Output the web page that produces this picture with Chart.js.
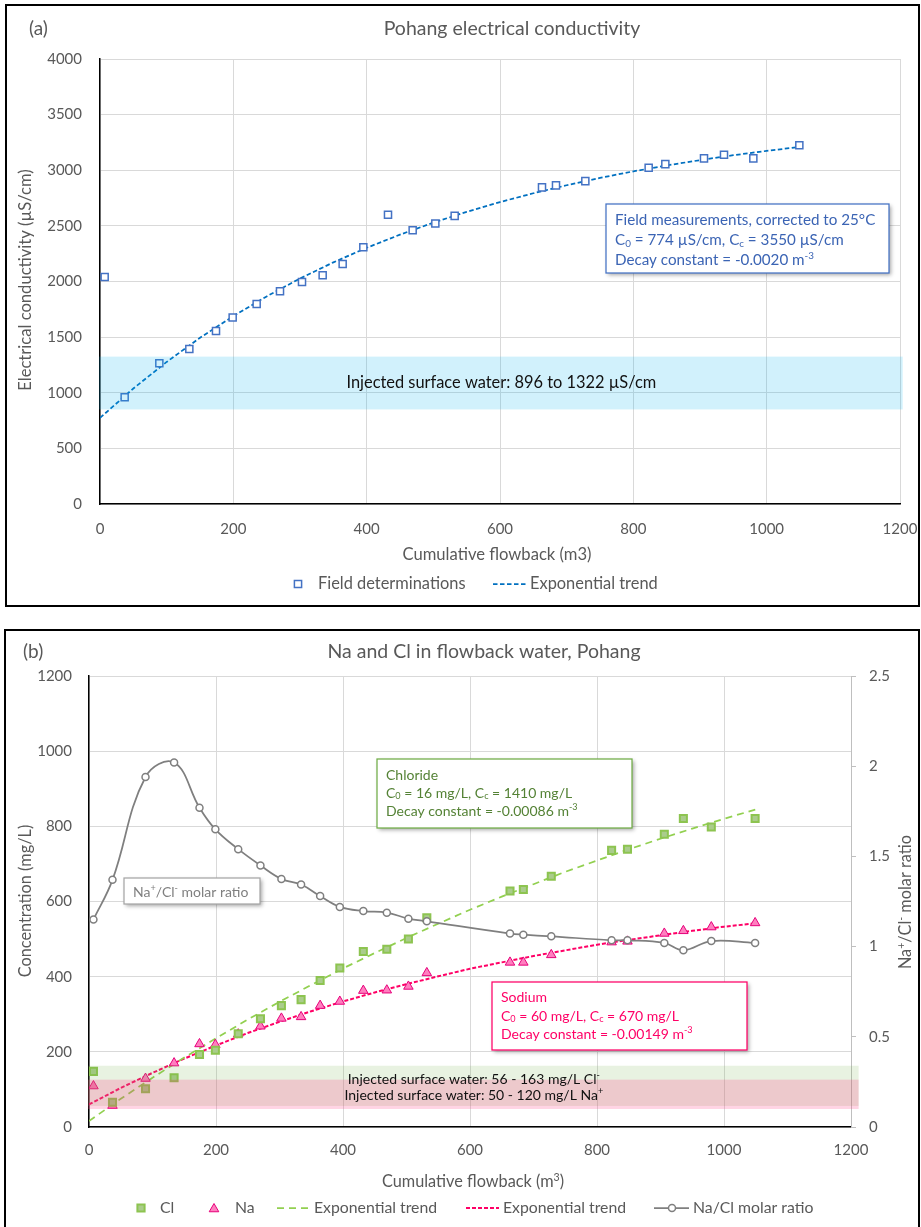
<!DOCTYPE html>
<html>
<head>
<meta charset="utf-8">
<script src="https://cdn.jsdelivr.net/npm/chart.js@4.4.1/dist/chart.umd.min.js"></script>
<style>
body{margin:0;background:#fff;width:921px;height:1227px;position:relative;overflow:hidden;font-family:Lato}
.panel{position:absolute;border:2px solid #000;box-sizing:border-box}
canvas{position:absolute;left:0}
</style>
</head>
<body>
<div class="panel" style="left:5px;top:4px;width:915px;height:603px"></div>
<div class="panel" style="left:4px;top:629px;width:916px;height:620px"></div>
<canvas id="ecChart" width="921" height="610" style="top:0;width:921px;height:610px"></canvas>
<canvas id="naclChart" width="921" height="615" style="top:612px;width:921px;height:615px"></canvas>
<script>
// cumulative flowback of each sample (m3), shared by both panels
const flowback = [7, 37, 89, 134, 174, 199, 235, 270, 303, 334, 364, 395, 432, 469, 503, 532, 663, 684, 728, 823, 848, 906, 936, 980, 1049];
const ecField = [2040, 960, 1265, 1393, 1555, 1676, 1798, 1912, 1996, 2056, 2158, 2308, 2600, 2461, 2522, 2590, 2846, 2864, 2902, 3022, 3055, 3107, 3139, 3107, 3225];
const clValues = [148, 66, 102, 131, 193, 204, 248, 288, 323, 339, 390, 423, 467, 473, 500, 557, 628, 632, 667, 736, 739, 779, 821, 798, 821];
const naValues = [109, 57, 129, 170, 221, 219, 247, 268, 289, 293, 323, 334, 363, 364, 374, 410, 438, 438, 458, 492, 494, 515, 522, 532, 543];
const naClRatio = [1.15, 1.37, 1.94, 2.02, 1.77, 1.65, 1.54, 1.45, 1.375, 1.344, 1.28, 1.22, 1.197, 1.188, 1.155, 1.14, 1.072, 1.066, 1.057, 1.035, 1.035, 1.02, 0.98, 1.031, 1.02];

// trend lines
const trendFlow = [0, 50, 100, 150, 200, 250, 300, 350, 400, 450, 500, 550, 600, 650, 700, 750, 800, 850, 900, 950, 1000, 1050];
const ecTrend = [774, 1038, 1277, 1494, 1689, 1866, 2027, 2172, 2303, 2421, 2529, 2626, 2714, 2793, 2865, 2931, 2990, 3043, 3091, 3135, 3174, 3210];
const clTrend = [16, 75, 131, 185, 236, 286, 333, 378, 422, 463, 503, 541, 578, 613, 646, 679, 709, 739, 767, 794, 820, 845];
const naTrend = [60, 104, 144, 182, 217, 250, 280, 308, 334, 358, 380, 401, 421, 438, 455, 470, 485, 498, 510, 522, 533, 542];

// injected surface water ranges as drawn
const ecBand = [850, 1325];
const clBand = [56, 163];
const naBand = [48, 126];

const FONT = 'Lato';
const GREY = '#595959';

function pts(xs, ys) { return xs.map((x, i) => ({x: x, y: ys[i]})); }
const plainTick = v => String(v);

function partsWidth(ctx, parts, size) {
  let w = 0;
  for (const [t, m] of parts) {
    ctx.font = (m ? size * 0.65 : size) + 'px ' + FONT;
    w += ctx.measureText(t).width;
  }
  return w;
}
function rich(ctx, parts, x, y, size, color, align) {
  ctx.save();
  ctx.fillStyle = color;
  ctx.textBaseline = 'middle';
  ctx.textAlign = 'left';
  if (align === 'center') x -= partsWidth(ctx, parts, size) / 2;
  for (const [t, m] of parts) {
    const s = m ? size * 0.65 : size;
    ctx.font = s + 'px ' + FONT;
    const dy = m === 'sub' ? size * 0.22 : m === 'sup' ? -size * 0.3 : 0;
    ctx.fillText(t, x, y + dy);
    x += ctx.measureText(t).width;
  }
  ctx.restore();
}
function vRich(ctx, parts, cx, cy, size, color) {
  ctx.save();
  ctx.translate(cx, cy);
  ctx.rotate(-Math.PI / 2);
  rich(ctx, parts, 0, 0, size, color, 'center');
  ctx.restore();
}
function noteBox(ctx, x, y, w, h, border) {
  ctx.save();
  ctx.shadowColor = 'rgba(0,0,0,0.35)';
  ctx.shadowBlur = 4;
  ctx.shadowOffsetX = 2;
  ctx.shadowOffsetY = 2;
  ctx.fillStyle = '#fff';
  ctx.fillRect(x, y, w, h);
  ctx.restore();
  ctx.save();
  ctx.strokeStyle = border;
  ctx.lineWidth = 1.25;
  ctx.strokeRect(x, y, w, h);
  ctx.restore();
}
function marker(ctx, kind, x, y, fill, stroke, lw) {
  ctx.save();
  ctx.fillStyle = fill;
  ctx.strokeStyle = stroke;
  ctx.lineWidth = lw;
  ctx.beginPath();
  if (kind === 'rect') ctx.rect(x - 3.6, y - 3.6, 7.2, 7.2);
  if (kind === 'triangle') { ctx.moveTo(x, y - 5.5); ctx.lineTo(x + 4.8, y + 2.75); ctx.lineTo(x - 4.8, y + 2.75); ctx.closePath(); }
  if (kind === 'circle') ctx.arc(x, y, 3.5, 0, Math.PI * 2);
  ctx.fill();
  ctx.stroke();
  ctx.restore();
}
function dashLine(ctx, x0, x1, y, color, dash, lw) {
  ctx.save();
  ctx.strokeStyle = color;
  ctx.lineWidth = lw;
  ctx.setLineDash(dash);
  ctx.beginPath();
  ctx.moveTo(x0, y);
  ctx.lineTo(x1, y);
  ctx.stroke();
  ctx.restore();
}
function band(ctx, xs, ys, range, xMax, color) {
  const x0 = xs.getPixelForValue(0), x1 = xs.getPixelForValue(xMax);
  const top = ys.getPixelForValue(range[1]), bot = ys.getPixelForValue(range[0]);
  ctx.save();
  ctx.fillStyle = color;
  ctx.fillRect(x0 - 1, top, x1 - x0 + 1, bot - top);
  ctx.restore();
  return {x0: x0, x1: x1, top: top, bot: bot};
}
// keep the plot area where the layout padding puts it
function noLabelPadding(s) { s.paddingLeft = 0; s.paddingRight = 0; s.paddingTop = 0; s.paddingBottom = 0; }

const tickFont = {family: FONT, size: 15};
const gridColor = '#d9d9d9';

const ecDecor = {
  id: 'ecDecor',
  afterDatasetsDraw(chart) {
    const {ctx, scales: {x, y}} = chart;
    const b = band(ctx, x, y, ecBand, 1204, 'rgba(0,176,240,0.18)');
    rich(ctx, [['Injected surface water: 896 to 1322 µS/cm', '']], (b.x0 + b.x1) / 2, (b.top + b.bot) / 2, 16.4, '#111', 'center');
  },
  afterDraw(chart) {
    const ctx = chart.ctx;
    noteBox(ctx, 606, 204, 283, 69, '#4472c4');
    const c = '#3b64b4';
    rich(ctx, [['Field measurements, corrected to 25°C', '']], 615, 220, 15.2, c);
    rich(ctx, [['C', ''], ['0', 'sub'], [' = 774 µS/cm, C', ''], ['c', 'sub'], [' = 3550 µS/cm', '']], 615, 240, 15.2, c);
    rich(ctx, [['Decay constant = -0.0020 m', ''], ['-3', 'sup']], 615, 260, 15.2, c);

    rich(ctx, [['(a)', '']], 29, 29, 19, GREY);
    rich(ctx, [['Pohang electrical conductivity', '']], 512, 29, 19.5, GREY, 'center');
    rich(ctx, [['Cumulative flowback (m3)', '']], 497, 555, 16.6, GREY, 'center');
    vRich(ctx, [['Electrical conductivity (µS/cm)', '']], 26, 280, 16.6, GREY);

    marker(ctx, 'rect', 298, 584, '#fff', '#4472c4', 1.5);
    rich(ctx, [['Field determinations', '']], 318, 584, 16.4, GREY);
    dashLine(ctx, 493, 526, 584, '#0070c0', [4.5, 2.5], 1.75);
    rich(ctx, [['Exponential trend', '']], 530, 584, 16.4, GREY);
  }
};

new Chart(document.getElementById('ecChart'), {
  type: 'scatter',
  data: {
    datasets: [
      {
        label: 'Field determinations',
        data: pts(flowback, ecField),
        pointStyle: 'rect', pointRadius: 5, borderWidth: 1.5,
        borderColor: '#4472c4', backgroundColor: '#fff',
        order: 1
      },
      {
        label: 'Exponential trend',
        data: pts(trendFlow, ecTrend),
        showLine: true, pointRadius: 0,
        borderColor: '#0070c0', borderWidth: 1.75, borderDash: [4.5, 2.5],
        order: 2
      }
    ]
  },
  options: {
    responsive: false, animation: false, devicePixelRatio: 1,
    layout: {padding: {left: 0, top: 59, right: 21, bottom: 0}},
    plugins: {legend: {display: false}, title: {display: false}, tooltip: {enabled: false}},
    scales: {
      x: {
        type: 'linear', min: 0, max: 1200,
        ticks: {stepSize: 200, color: GREY, font: tickFont, padding: 16, callback: plainTick},
        grid: {color: gridColor, drawTicks: false},
        border: {color: '#000', width: 1.5},
        afterFit(s) { s.height = 106; noLabelPadding(s); }
      },
      y: {
        type: 'linear', min: 0, max: 4000,
        ticks: {stepSize: 500, color: GREY, font: tickFont, padding: 18, callback: plainTick},
        grid: {color: gridColor, drawTicks: false},
        border: {color: '#000', width: 1.5},
        afterFit(s) { s.width = 100; noLabelPadding(s); }
      }
    }
  },
  plugins: [ecDecor]
});

const naclDecor = {
  id: 'naclDecor',
  afterDatasetsDraw(chart) {
    const {ctx, scales: {x, y}} = chart;
    const g = band(ctx, x, y, clBand, 1212, 'rgba(112,173,71,0.16)');
    band(ctx, x, y, naBand, 1212, 'rgba(255,60,130,0.22)');
    const cx = (g.x0 + g.x1) / 2;
    rich(ctx, [['Injected surface water: 56 - 163 mg/L Cl', ''], ['-', 'sup']], cx, 467, 14, '#111', 'center');
    rich(ctx, [['Injected surface water: 50 - 120 mg/L Na', ''], ['+', 'sup']], cx, 483, 14, '#111', 'center');
  },
  afterDraw(chart) {
    const ctx = chart.ctx;
    noteBox(ctx, 377, 147, 255, 69, '#70ad47');
    const gc = '#548235';
    rich(ctx, [['Chloride', '']], 386, 163, 14, gc);
    rich(ctx, [['C', ''], ['0', 'sub'], [' = 16 mg/L, C', ''], ['c', 'sub'], [' = 1410 mg/L', '']], 386, 181, 14, gc);
    rich(ctx, [['Decay constant = -0.00086 m', ''], ['-3', 'sup']], 386, 199, 14, gc);

    noteBox(ctx, 492, 370, 255, 68, '#ff0066');
    const pc = '#ff0066';
    rich(ctx, [['Sodium', '']], 501, 385, 14, pc);
    rich(ctx, [['C', ''], ['0', 'sub'], [' = 60 mg/L, C', ''], ['c', 'sub'], [' = 670 mg/L', '']], 501, 404, 14, pc);
    rich(ctx, [['Decay constant = -0.00149 m', ''], ['-3', 'sup']], 501, 422, 14, pc);

    noteBox(ctx, 124, 266, 136, 26, '#a6a6a6');
    rich(ctx, [['Na', ''], ['+', 'sup'], ['/Cl', ''], ['-', 'sup'], [' molar ratio', '']], 133, 280, 14, '#7f7f7f');

    rich(ctx, [['(b)', '']], 23, 40, 19, GREY);
    rich(ctx, [['Na and Cl in flowback water, Pohang', '']], 484, 40, 19.5, GREY, 'center');
    rich(ctx, [['Cumulative flowback (m', ''], ['3', 'sup'], [')', '']], 473, 570, 16.3, GREY, 'center');
    vRich(ctx, [['Concentration (mg/L)', '']], 26, 289, 16.3, GREY);
    vRich(ctx, [['Na', ''], ['+', 'sup'], ['/Cl', ''], ['-', 'sup'], [' molar ratio', '']], 906, 290, 16.3, GREY);

    const ly = 596;
    marker(ctx, 'rect', 141, ly, '#aacc8c', '#8dc450', 2);
    rich(ctx, [['Cl', '']], 160, ly, 15.8, GREY);
    marker(ctx, 'triangle', 214, ly + 1, '#ff7fbf', '#e6007a', 1);
    rich(ctx, [['Na', '']], 235, ly, 15.8, GREY);
    dashLine(ctx, 277, 310, ly, '#92d050', [7, 5], 1.75);
    rich(ctx, [['Exponential trend', '']], 314, ly, 15.8, GREY);
    dashLine(ctx, 466, 499, ly, '#ff0066', [4, 2], 2);
    rich(ctx, [['Exponential trend', '']], 503, ly, 15.8, GREY);
    dashLine(ctx, 654, 689, ly, '#7f7f7f', [], 1.75);
    marker(ctx, 'circle', 672, ly, '#fff', '#7f7f7f', 1.5);
    rich(ctx, [['Na/Cl molar ratio', '']], 693, ly, 15.8, GREY);
  }
};

new Chart(document.getElementById('naclChart'), {
  type: 'scatter',
  data: {
    datasets: [
      {
        label: 'Na/Cl molar ratio',
        data: pts(flowback, naClRatio),
        yAxisID: 'y2',
        showLine: true, tension: 0.4,
        pointStyle: 'circle', pointRadius: 3.5, borderWidth: 1.75, pointBorderWidth: 1.5,
        borderColor: '#7f7f7f', pointBackgroundColor: '#fff', backgroundColor: '#fff',
        order: 0
      },
      {
        label: 'Cl',
        data: pts(flowback, clValues),
        pointStyle: 'rect', pointRadius: 5, borderWidth: 2,
        borderColor: '#8dc450', backgroundColor: '#aacc8c',
        order: 1
      },
      {
        label: 'Na',
        data: pts(flowback, naValues),
        pointStyle: 'triangle', pointRadius: 5.5, borderWidth: 1,
        borderColor: '#e6007a', backgroundColor: '#ff7fbf',
        order: 2
      },
      {
        label: 'Exponential trend',
        data: pts(trendFlow, clTrend),
        showLine: true, pointRadius: 0,
        borderColor: '#92d050', borderWidth: 1.75, borderDash: [7, 5],
        order: 3
      },
      {
        label: 'Exponential trend',
        data: pts(trendFlow, naTrend),
        showLine: true, pointRadius: 0,
        borderColor: '#ff0066', borderWidth: 2, borderDash: [4, 2],
        order: 4
      }
    ]
  },
  options: {
    responsive: false, animation: false, devicePixelRatio: 1,
    layout: {padding: {left: 0, top: 64, right: 0, bottom: 0}},
    plugins: {legend: {display: false}, title: {display: false}, tooltip: {enabled: false}},
    scales: {
      x: {
        type: 'linear', min: 0, max: 1200,
        ticks: {stepSize: 200, color: GREY, font: tickFont, padding: 14, callback: plainTick},
        grid: {color: gridColor, drawTicks: false},
        border: {color: '#000', width: 1.5},
        afterFit(s) { s.height = 100; noLabelPadding(s); }
      },
      y: {
        type: 'linear', position: 'left', min: 0, max: 1200,
        ticks: {stepSize: 200, color: GREY, font: tickFont, padding: 17, callback: plainTick},
        grid: {color: gridColor, drawTicks: false},
        border: {color: '#000', width: 1.5},
        afterFit(s) { s.width = 89; noLabelPadding(s); }
      },
      y2: {
        type: 'linear', position: 'right', min: 0, max: 2.5,
        ticks: {stepSize: 0.5, color: GREY, font: tickFont, padding: 13, callback: plainTick},
        grid: {drawOnChartArea: false, color: '#bfbfbf', tickLength: 5},
        border: {color: '#bfbfbf', width: 1},
        afterFit(s) { s.width = 70; noLabelPadding(s); }
      }
    }
  },
  plugins: [naclDecor]
});
</script>
</body>
</html>
